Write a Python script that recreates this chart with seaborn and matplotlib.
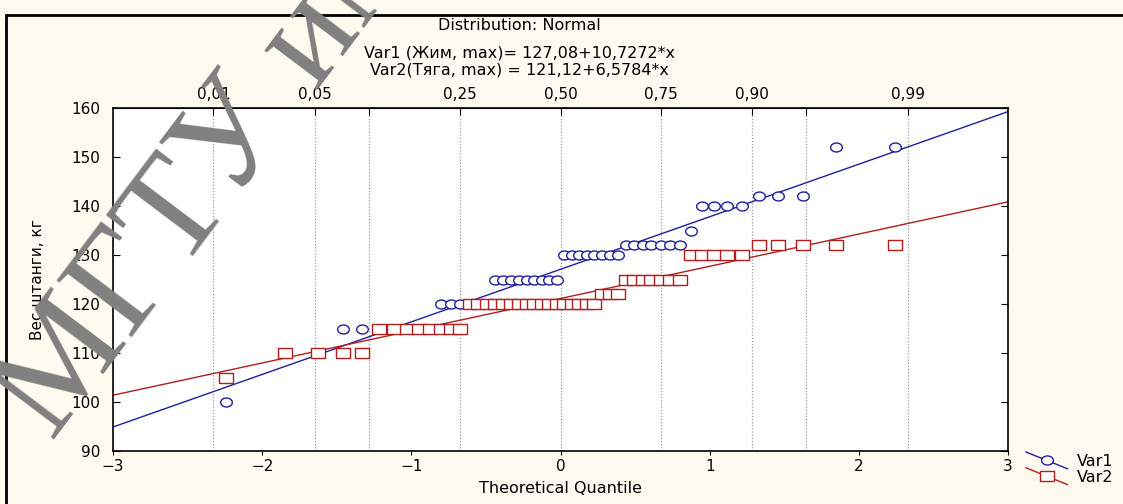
import numpy as np
import pandas as pd
import matplotlib
matplotlib.use("Agg")
import matplotlib.pyplot as plt
import seaborn as sns
from matplotlib.patches import Rectangle
from matplotlib.lines import Line2D
from matplotlib.legend_handler import HandlerBase
from statistics import NormalDist

# ===========================
# DADOS
# ===========================
var1_values = [100, 110, 110, 115, 115, 115, 115, 115, 115, 115,
               120, 120, 120, 120, 120, 120,
               125, 125, 125, 125, 125, 125, 125, 125, 125,
               130, 130, 130, 130, 130, 130, 130, 130,
               132, 132, 132, 132, 132, 132, 132,
               135, 140, 140, 140, 140, 142, 142, 142, 152, 152]
var2_values = [105, 110, 110, 110, 110,
               115, 115, 115, 115, 115, 115, 115, 115,
               120, 120, 120, 120, 120, 120, 120, 120, 120,
               120, 120, 120, 120, 120, 120, 120, 120,
               122, 122, 122,
               125, 125, 125, 125, 125, 125, 125,
               130, 130, 130, 130, 130,
               132, 132, 132, 132, 132]

var1_fit = (127.08, 10.7272)   # intercepto, inclinação
var2_fit = (121.12, 6.5784)

prob_grid = [0.01, 0.05, 0.10, 0.25, 0.50, 0.75, 0.90, 0.95, 0.99]
prob_labels = ["0,01", "0,05", "", "0,25", "0,50", "0,75", "0,90", "", "0,99"]

x_ticks = [-3, -2, -1, 0, 1, 2, 3]
y_ticks = [90, 100, 110, 120, 130, 140, 150, 160]

BLUE = "#1f1f9e"
RED = "#b01e1e"
BG = "#fffaf0"

plt.rcParams["font.family"] = ["DejaVu Sans"]

# marcadores "achatados" (mais largos que altos), como no Statistica
t = np.linspace(0, 2 * np.pi, 40)
ELLIPSE = np.c_[1.3 * np.cos(t), np.sin(t)]
RECT = np.array([[-1.3, -1], [1.3, -1], [1.3, 1], [-1.3, 1], [-1.3, -1]])


def blom_quantiles(n):
    nd = NormalDist()
    return np.array([nd.inv_cdf((i - 0.375) / (n + 0.25)) for i in range(1, n + 1)])


def fmt(v, d):
    return f"{v:.{d}f}".replace(".", ",")


class DiagHandler(HandlerBase):
    # linha diagonal com marcador no meio
    def create_artists(self, legend, orig, xdescent, ydescent, width, height, fontsize, trans):
        c = orig.get_color()
        x0, x1 = -xdescent, -xdescent + width
        y0, y1 = -ydescent - 0.25 * height, -ydescent + 1.25 * height
        line = Line2D([x0, x1], [y1, y0], color=c, lw=1.0, transform=trans)
        mark = Line2D([(x0 + x1) / 2], [(y0 + y1) / 2], marker=orig.get_marker(),
                      ms=orig.get_markersize(), mfc="white", mec=c, mew=1.0,
                      ls="none", transform=trans)
        return [line, mark]


df = pd.concat([
    pd.DataFrame({"q": blom_quantiles(len(var1_values)), "val": var1_values, "var": "Var1"}),
    pd.DataFrame({"q": blom_quantiles(len(var2_values)), "val": var2_values, "var": "Var2"}),
])

fig = plt.figure(figsize=(11.23, 5.04), dpi=100, facecolor=BG)
ax = fig.add_axes([113 / 1123, 1 - 451 / 504, 895 / 1123, 343 / 504])
ax.set_facecolor("white")

# linhas verticais pontilhadas nos quantis de probabilidade
prob_q = [NormalDist().inv_cdf(p) for p in prob_grid]
for q in prob_q:
    ax.axvline(q, color="#9a9a9a", ls=(0, (1, 1.5)), lw=0.9, zorder=0)

# retas ajustadas
xl = np.array([-3.0, 3.0])
sns.lineplot(x=xl, y=var1_fit[0] + var1_fit[1] * xl, color=BLUE, lw=1.0, ax=ax, zorder=2)
sns.lineplot(x=xl, y=var2_fit[0] + var2_fit[1] * xl, color=RED, lw=1.0, ax=ax, zorder=2)

# pontos
d1 = df[df["var"] == "Var1"]
d2 = df[df["var"] == "Var2"]
sns.scatterplot(data=d1, x="q", y="val", marker=ELLIPSE, s=70, facecolor="white",
                edgecolor=BLUE, linewidth=1.0, ax=ax, zorder=3)
sns.scatterplot(data=d2, x="q", y="val", marker=RECT, s=90, facecolor="white",
                edgecolor=RED, linewidth=1.0, ax=ax, zorder=4)

ax.set_xlim(-3, 3)
ax.set_ylim(90, 160)
ax.set_xticks(x_ticks)
ax.set_yticks(y_ticks)
ax.tick_params(axis="x", direction="out", length=3, pad=3, labelsize=11, color="black")
ax.tick_params(axis="y", direction="in", length=5, pad=9, labelsize=11, right=True)
for s in ax.spines.values():
    s.set_linewidth(1.2)
    s.set_color("black")

ax.set_xlabel("Theoretical Quantile", fontsize=11.5, labelpad=5)
ax.set_ylabel("Вес штанги, кг", fontsize=11)
ax.yaxis.set_label_coords(-0.076, 0.5)

# eixo superior com probabilidades
top = ax.secondary_xaxis("top")
top.set_xticks(prob_q)
top.set_xticklabels(prob_labels)
top.tick_params(direction="in", length=5, pad=4, labelsize=11)

# títulos
fig.text(519 / 1123, 1 - 26 / 504, "Distribution: Normal", ha="center", va="center", fontsize=11.5)
fig.text(519 / 1123, 1 - 53 / 504,
         f"Var1 (Жим, max)= {fmt(var1_fit[0], 2)}+{fmt(var1_fit[1], 4)}*x",
         ha="center", va="center", fontsize=11.5)
fig.text(519 / 1123, 1 - 70 / 504,
         f"Var2(Тяга, max) = {fmt(var2_fit[0], 2)}+{fmt(var2_fit[1], 4)}*x",
         ha="center", va="center", fontsize=11.5)

# legenda
h1 = Line2D([], [], color=BLUE, marker=ELLIPSE, ms=8.5)
h2 = Line2D([], [], color=RED, marker=RECT, ms=9.5)
fig.legend([h1, h2], ["Var1", "Var2"], loc="upper left",
           bbox_to_anchor=(1018 / 1123, 1 - 446 / 504), frameon=False, fontsize=11.5,
           handlelength=2.6, handleheight=0.7, handletextpad=0.6, labelspacing=0.05,
           borderpad=0, handler_map={Line2D: DiagHandler()})

# moldura
fig.add_artist(Rectangle((6 / 1123, -0.1), 1.2, 1.1 - 15 / 504, transform=fig.transFigure,
                         fill=False, ec="black", lw=2))

# marca d'água
fig.text(52 / 1123, 1 - 442 / 504, "МГТУ им", rotation=53, rotation_mode="anchor",
         ha="left", va="baseline", fontsize=104, color="#808080",
         family=["Liberation Serif", "DejaVu Serif"], zorder=10)

fig.savefig("out.png", dpi=100, facecolor=BG)
